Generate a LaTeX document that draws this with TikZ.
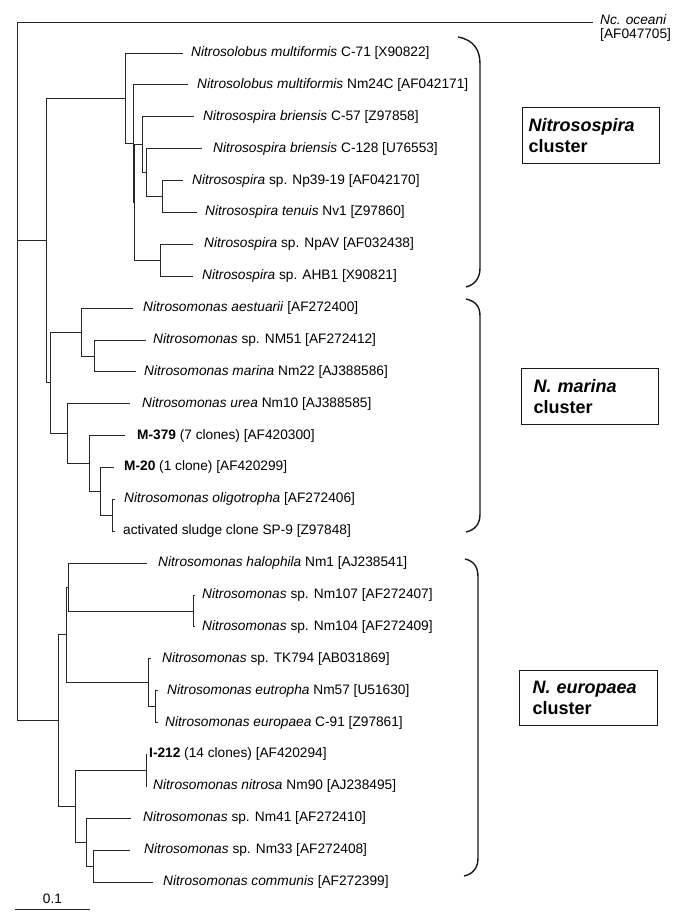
\documentclass[tikz,border=0pt]{standalone}
\usepackage{fontspec}
\setmainfont{Liberation Sans}
\begin{document}
\begin{tikzpicture}[x=1pt,y=-1pt,
  br/.style={draw=black!85,line width=0.8pt},
  lab/.style={anchor=west,inner sep=0pt,font=\fontsize{13.7}{16}\selectfont},
  curly/.style={draw=black!90,line width=1.4pt},
  clbox/.style={draw=black!90,line width=1pt,anchor=north west,align=left,
    minimum height=56pt,inner ysep=0pt,font=\fontsize{18}{21}\selectfont\bfseries}]
\useasboundingbox (0,0) rectangle (680,917);
% ---------- leaf tips and labels ----------
\coordinate (t0) at (183,53.0);  \node[lab] (l0) at (191,53.0) {\textit{Nitrosolobus multiformis} C-71 [X90822]};
\coordinate (t1) at (188,84.9);  \node[lab] (l1) at (197,84.9) {\textit{Nitrosolobus multiformis} Nm24C [AF042171]};
\coordinate (t2) at (194,116.8); \node[lab] (l2) at (203,116.8) {\textit{Nitrosospira briensis} C-57 [Z97858]};
\coordinate (t3) at (202,148.6); \node[lab] (l3) at (213,148.6) {\textit{Nitrosospira briensis} C-128 [U76553]};
\coordinate (t4) at (183,180.5); \node[lab] (l4) at (192,180.5) {\textit{Nitrosospira} sp. Np39-19 [AF042170]};
\coordinate (t5) at (197,212.4); \node[lab] (l5) at (205,212.4) {\textit{Nitrosospira tenuis} Nv1 [Z97860]};
\coordinate (t6) at (193,244.3); \node[lab] (l6) at (204,244.3) {\textit{Nitrosospira} sp. NpAV [AF032438]};
\coordinate (t7) at (193,276.2); \node[lab] (l7) at (202,276.2) {\textit{Nitrosospira} sp. AHB1 [X90821]};
\coordinate (t8) at (133,308.0); \node[lab] (l8) at (143,308.0) {\textit{Nitrosomonas aestuarii} [AF272400]};
\coordinate (t9) at (146,339.9); \node[lab] (l9) at (153,339.9) {\textit{Nitrosomonas} sp. NM51 [AF272412]};
\coordinate (t10) at (136,371.8); \node[lab] (l10) at (144,371.8) {\textit{Nitrosomonas marina} Nm22 [AJ388586]};
\coordinate (t11) at (130,403.7); \node[lab] (l11) at (142,403.7) {\textit{Nitrosomonas urea} Nm10 [AJ388585]};
\coordinate (t12) at (125,435.6); \node[lab] (l12) at (137,435.6) {\textbf{M-379} (7 clones) [AF420300]};
\coordinate (t13) at (114,467.4); \node[lab] (l13) at (124,467.4) {\textbf{M-20} (1 clone) [AF420299]};
\coordinate (t14) at (115,499.3); \node[lab] (l14) at (124,499.3) {\textit{Nitrosomonas oligotropha} [AF272406]};
\coordinate (t15) at (115,531.2); \node[lab] (l15) at (123,531.2) {activated sludge clone SP-9 [Z97848]};
\coordinate (t16) at (147,563.1); \node[lab] (l16) at (158,563.1) {\textit{Nitrosomonas halophila} Nm1 [AJ238541]};
\coordinate (t17) at (195,595.0); \node[lab] (l17) at (202,595.0) {\textit{Nitrosomonas} sp. Nm107 [AF272407]};
\coordinate (t18) at (195,626.8); \node[lab] (l18) at (202,626.8) {\textit{Nitrosomonas} sp. Nm104 [AF272409]};
\coordinate (t19) at (151,658.7); \node[lab] (l19) at (162,658.7) {\textit{Nitrosomonas} sp. TK794 [AB031869]};
\coordinate (t20) at (158,690.6); \node[lab] (l20) at (167,690.6) {\textit{Nitrosomonas eutropha} Nm57 [U51630]};
\coordinate (t21) at (158,722.5); \node[lab] (l21) at (165,722.5) {\textit{Nitrosomonas europaea} C-91 [Z97861]};
\coordinate (t22) at (147,754.4); \node[lab] (l22) at (149,754.4) {\textbf{I-212} (14 clones) [AF420294]};
\coordinate (t23) at (147,786.2); \node[lab] (l23) at (153,786.2) {\textit{Nitrosomonas nitrosa} Nm90 [AJ238495]};
\coordinate (t24) at (131,818.1); \node[lab] (l24) at (143,818.1) {\textit{Nitrosomonas} sp. Nm41 [AF272410]};
\coordinate (t25) at (130,850.0); \node[lab] (l25) at (144,850.0) {\textit{Nitrosomonas} sp. Nm33 [AF272408]};
\coordinate (t26) at (153,881.9); \node[lab] (l26) at (163,881.9) {\textit{Nitrosomonas communis} [AF272399]};
\coordinate (toc) at (593,22);
\node[lab,align=left,font=\fontsize{13.7}{14.5}\selectfont] (loc) at (600,28) {\textit{Nc. oceani}\\ {[AF047705]}};
% ---------- internal nodes ----------
\coordinate (N5) at (162,196.5);
\coordinate (N4) at (146,172.6);
\coordinate (N3) at (142,144.7);
\coordinate (Np) at (160,260.3);
\coordinate (N2b) at (134,202.5);
\coordinate (N2) at (133,143.7);
\coordinate (N1) at (125,98.4);
\coordinate (M2) at (94,355.9);
\coordinate (M1) at (81,332.0);
\coordinate (M6) at (112,515.3);
\coordinate (M5) at (100,491.4);
\coordinate (M4) at (89,463.5);
\coordinate (M3) at (67,433.6);
\coordinate (M0) at (50,382.8);
\coordinate (A) at (46,240.6);
\coordinate (E4) at (193,610.9);
\coordinate (E2) at (68,587.0);
\coordinate (E5) at (155,706.5);
\coordinate (E3) at (148,682.6);
\coordinate (E1) at (66,634.8);
\coordinate (E7) at (146,770.3);
\coordinate (E9) at (93,866.0);
\coordinate (E8) at (86,842.0);
\coordinate (E6) at (75,806.2);
\coordinate (E0) at (58,720.5);
\coordinate (R) at (17,240.6);
% ---------- branches ----------
\draw[br] (R) |- (toc);
\draw[br] (R) |- (A);
\draw[br] (R) |- (E0);
\draw[br] (A) |- (N1);
\draw[br] (A) |- (M0);
% Nitrosospira
\draw[br] (N1) |- (t0);
\draw[br] (N1) |- (N2);
\draw[br] (N2) |- (t1);
\draw[br] (N2) |- (N2b);
\draw[br] (N2b) |- (N3);
\draw[br] (N2b) |- (Np);
\draw[br] (N3) |- (t2);
\draw[br] (N3) |- (N4);
\draw[br] (N4) |- (t3);
\draw[br] (N4) |- (N5);
\draw[br] (N5) |- (t4);
\draw[br] (N5) |- (t5);
\draw[br] (Np) |- (t6);
\draw[br] (Np) |- (t7);
% N. marina
\draw[br] (M0) |- (M1);
\draw[br] (M0) |- (M3);
\draw[br] (M1) |- (t8);
\draw[br] (M1) |- (M2);
\draw[br] (M2) |- (t9);
\draw[br] (M2) |- (t10);
\draw[br] (M3) |- (t11);
\draw[br] (M3) |- (M4);
\draw[br] (M4) |- (t12);
\draw[br] (M4) |- (M5);
\draw[br] (M5) |- (t13);
\draw[br] (M5) |- (M6);
\draw[br] (M6) |- (t14);
\draw[br] (M6) |- (t15);
% N. europaea
\draw[br] (E0) |- (E1);
\draw[br] (E0) |- (E6);
\draw[br] (E1) |- (E2);
\draw[br] (E1) |- (E3);
\draw[br] (E2) |- (t16);
\draw[br] (E2) |- (E4);
\draw[br] (E4) |- (t17);
\draw[br] (E4) |- (t18);
\draw[br] (E3) |- (t19);
\draw[br] (E3) |- (E5);
\draw[br] (E5) |- (t20);
\draw[br] (E5) |- (t21);
\draw[br] (E6) |- (E7);
\draw[br] (E6) |- (E8);
\draw[br] (E7) |- (t22);
\draw[br] (E7) |- (t23);
\draw[br] (E8) |- (t24);
\draw[br] (E8) |- (E9);
\draw[br] (E9) |- (t25);
\draw[br] (E9) |- (t26);
% ---------- braces ----------
\draw[curly] (458,37) .. controls (474,40) and (480,50) .. (480,64) -- (480,268) .. controls (480,279) and (474,285) .. (466,287);
\draw[curly] (466,299) .. controls (475,301) and (480,306) .. (480,316) -- (480,514) .. controls (480,524) and (475,530) .. (466,532);
\draw[curly] (465,559) .. controls (474,561) and (478,567) .. (478,577) -- (478,858) .. controls (478,868) and (473,874) .. (464,876);
% ---------- cluster boxes ----------
\node[clbox,inner xsep=6pt,text width=125pt] (b1) at (522,107) {\textit{Nitrosospira}\\ cluster};
\node[clbox,inner xsep=12pt,text width=113pt] (b2) at (521,368) {\textit{N. marina}\\ cluster};
\node[clbox,inner xsep=13pt,text width=112pt,minimum height=55pt] (b3) at (519,670) {\textit{N. europaea}\\ cluster};
% ---------- scale bar ----------
\coordinate (s1) at (15,909);
\coordinate (s2) at (90,909);
\draw[br] (s1) -- (s2);
\node[inner sep=0pt,font=\fontsize{13.7}{16}\selectfont] (sl) at (52.5,899) {0.1};
\end{tikzpicture}
\end{document}
